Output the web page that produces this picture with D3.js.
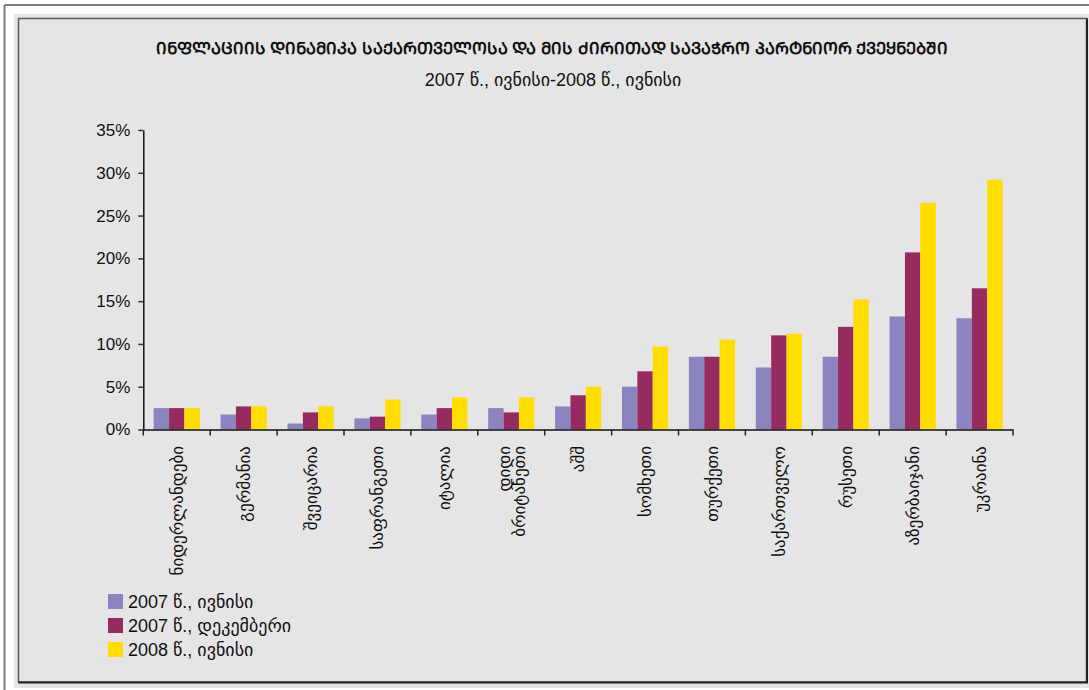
<!DOCTYPE html>
<html>
<head>
<meta charset="utf-8">
<script src="https://cdn.jsdelivr.net/npm/d3@7"></script>
<style>
  html, body { margin: 0; padding: 0; background: #ffffff; }
  svg { display: block; }
  text { font-family: "Liberation Sans", "DejaVu Sans", sans-serif; fill: #111; }
</style>
</head>
<body>
<svg id="chart" width="1089" height="690"></svg>
<script>
// Inflation in Georgia and its main trading partners, three observation dates
const categories = [
  "ნიდერლანდები", "გერმანია", "შვეიცარია", "საფრანგეთი", "იტალია",
  "დიდი ბრიტანეთი", "აშშ", "სომხეთი", "თურქეთი", "საქართველო",
  "რუსეთი", "აზერბაიჯანი", "უკრაინა"
];
const seriesNames = ["2007 წ., ივნისი", "2007 წ., დეკემბერი", "2008 წ., ივნისი"];
const june2007 = [2.5, 1.75, 0.7, 1.3, 1.75, 2.5, 2.7, 5.0, 8.5, 7.25, 8.5, 13.2, 13.0];
const dec2007  = [2.5, 2.7, 2.0, 1.5, 2.5, 2.0, 4.0, 6.8, 8.5, 11.0, 12.0, 20.7, 16.5];
const june2008 = [2.5, 2.7, 2.7, 3.5, 3.75, 3.75, 5.0, 9.7, 10.5, 11.2, 15.2, 26.5, 29.2];
const yTicks = [0, 5, 10, 15, 20, 25, 30, 35];
const colors = ["#8a85bf", "#952b5e", "#ffdd00"];

const titleText = "ინფლაციის დინამიკა საქართველოსა და მის ძირითად სავაჭრო პარტნიორ ქვეყნებში";
const subtitleText = "2007 წ., ივნისი-2008 წ., ივნისი";

const series = [june2007, dec2007, june2008];
const svg = d3.select("#chart");

// outer frame: page edge lines, grey panel and its border
svg.append("line").attr("x1", 4.5).attr("y1", 5).attr("x2", 1089).attr("y2", 5)
  .attr("stroke", "#7a7a7a").attr("stroke-width", 2);
svg.append("line").attr("x1", 4.5).attr("y1", 5).attr("x2", 4.5).attr("y2", 690)
  .attr("stroke", "#7a7a7a").attr("stroke-width", 2);
svg.append("rect").attr("x", 14).attr("y", 14).attr("width", 1075).attr("height", 674)
  .attr("fill", "#e5e5e5");
svg.append("rect").attr("x", 18.5).attr("y", 18.5).attr("width", 1068).attr("height", 663.5)
  .attr("fill", "none").attr("stroke", "#5a5a5a").attr("stroke-width", 1.5);
svg.append("path").attr("d", "M18.5,682.5H1087V18.5")
  .attr("fill", "none").attr("stroke", "#222").attr("stroke-width", 2);

// titles (header uses Georgian capital letters)
const toMtavruli = s => Array.from(s).map(ch => {
  const c = ch.charCodeAt(0);
  return (c >= 0x10D0 && c <= 0x10FA) ? String.fromCharCode(c - 0x10D0 + 0x1C90) : ch;
}).join("");
svg.append("text").attr("x", 552).attr("y", 54).attr("text-anchor", "middle")
  .style("font-size", "16.5px").style("font-weight", "bold")
  .text(toMtavruli(titleText));
svg.append("text").attr("x", 553).attr("y", 86).attr("text-anchor", "middle")
  .style("font-size", "18px")
  .text(subtitleText);

// scales
const x0 = d3.scaleBand().domain(categories).range([143.3, 1013]).padding(0);
const x1 = d3.scaleBand().domain(d3.range(3))
  .range([x0.bandwidth() * 0.155, x0.bandwidth() * 0.845]).padding(0);
const y = d3.scaleLinear().domain([0, 35]).range([429.5, 130]);

// bars
const groups = svg.append("g").selectAll("g").data(categories).join("g")
  .attr("transform", d => `translate(${x0(d)},0)`);
groups.selectAll("rect")
  .data((d, i) => series.map((s, k) => ({ k, v: s[i] })))
  .join("rect")
  .attr("x", d => x1(d.k))
  .attr("width", x1.bandwidth())
  .attr("y", d => y(d.v))
  .attr("height", d => y(0) - y(d.v))
  .attr("fill", d => colors[d.k]);

// y axis
const yAxis = svg.append("g").attr("transform", "translate(143.3,0)")
  .call(d3.axisLeft(y).tickValues(yTicks).tickFormat(d => d + "%").tickSize(5).tickSizeOuter(0));
yAxis.select(".domain").attr("stroke", "#111").attr("stroke-width", 1.5);
yAxis.selectAll(".tick line").attr("stroke", "#333").attr("stroke-width", 1.5);
yAxis.selectAll(".tick text").attr("x", -13).style("font-size", "17px")
  .style("font-family", "'Liberation Sans', sans-serif").attr("fill", "#111");

// x axis: baseline and ticks at category boundaries
const xAxis = svg.append("g").attr("transform", `translate(0,${y(0)})`)
  .call(d3.axisBottom(x0).tickSize(0).tickFormat(""));
xAxis.select(".domain").attr("stroke", "#111").attr("stroke-width", 1.5);
const edges = categories.map(c => x0(c)).concat([x0.range()[1]]);
svg.append("g").selectAll("line").data(edges).join("line")
  .attr("x1", d => d).attr("x2", d => d)
  .attr("y1", y(0)).attr("y2", y(0) + 6)
  .attr("stroke", "#222").attr("stroke-width", 1.5);

// rotated category labels
const labels = svg.append("g").selectAll("text").data(categories).join("text")
  .attr("transform", d => `translate(${x0(d) + x0.bandwidth() / 2},446) rotate(-90)`)
  .attr("text-anchor", "end")
  .style("font-size", "17px");
labels.each(function(d) {
  const words = d.split(" ");
  const t = d3.select(this);
  const n = words.length;
  words.forEach((w, i) => {
    t.append("tspan").attr("x", 0)
      .attr("dy", i === 0 ? `${0.35 - (n - 1) * 0.45}em` : "0.9em")
      .text(w);
  });
});

// legend
const legend = svg.append("g").attr("transform", "translate(108,594)");
seriesNames.forEach((name, i) => {
  const g = legend.append("g").attr("transform", `translate(0,${i * 24})`);
  g.append("rect").attr("width", 15).attr("height", 15).attr("fill", colors[i]);
  g.append("text").attr("x", 20).attr("y", 14).style("font-size", "18px").text(name);
});
</script>
</body>
</html>
